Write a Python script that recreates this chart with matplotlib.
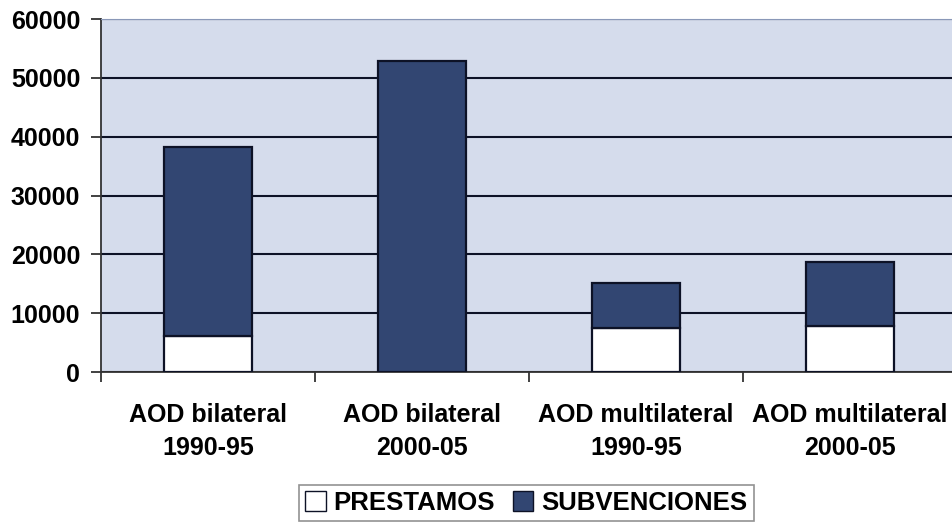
import numpy as np
import matplotlib.pyplot as plt
from matplotlib.patches import Patch

# data
categories = ['AOD bilateral\n1990-95', 'AOD bilateral\n2000-05',
              'AOD multilateral\n1990-95', 'AOD multilateral\n2000-05']
prestamos = [6100, 0, 7400, 7900]
subvenciones = [32150, 52900, 7800, 10800]
yticks = [0, 10000, 20000, 30000, 40000, 50000, 60000]

plt.rcParams['font.family'] = ['Liberation Sans', 'DejaVu Sans']
plt.rcParams['font.weight'] = 'bold'

fig = plt.figure(figsize=(9.53, 5.25), dpi=100, facecolor='white')
ax = fig.add_axes([0.106, 0.2914, 0.898, 0.6724])
ax.set_facecolor('#d5dcec')

x = np.arange(len(categories))
w = 0.41
ax.bar(x, prestamos, w, color='white', edgecolor='#0d1226', linewidth=1.6,
       zorder=3)
ax.bar(x, subvenciones, w, bottom=prestamos, color='#324672',
       edgecolor='#0d1226', linewidth=1.6, zorder=3)

ax.set_xlim(-0.5, 3.5)
ax.set_ylim(0, 60000)
ax.set_yticks(yticks)
ax.set_yticklabels([str(v) for v in yticks], fontsize=18, fontweight='bold')
ax.yaxis.grid(True, color='#0d1226', linewidth=1.5, zorder=1)
ax.set_axisbelow(True)

ax.set_xticks(x)
ax.set_xticklabels(categories, fontsize=18, fontweight='bold',
                   linespacing=1.5)
ax.set_xticks([-0.5, 0.5, 1.5, 2.5], minor=True)
ax.tick_params(axis='x', which='major', length=0, pad=22)
ax.tick_params(axis='x', which='minor', length=7, width=1.3, color='#333333')
ax.tick_params(axis='y', length=7, width=1.3, color='#333333', pad=8)

for s in ['left', 'bottom']:
    ax.spines[s].set_color('#333333')
    ax.spines[s].set_linewidth(1.3)
ax.spines['top'].set_color('#8a98b8')
ax.spines['right'].set_visible(False)

handles = [Patch(facecolor='white', edgecolor='#0d1226', linewidth=1.0),
           Patch(facecolor='#324672', edgecolor='#0d1226', linewidth=1.0)]
leg = fig.legend(handles, ['PRESTAMOS', 'SUBVENCIONES'], loc='center',
                 bbox_to_anchor=(0.552, 0.042), ncol=2, fancybox=False,
                 handlelength=0.8, handleheight=0.8, handletextpad=0.3,
                 columnspacing=0.7, borderpad=0.25, borderaxespad=0.0,
                 edgecolor='#777777', prop={'size': 18.5, 'weight': 'bold'})
leg.get_frame().set_linewidth(1.2)

fig.savefig('out.png', dpi=100, facecolor='white')
